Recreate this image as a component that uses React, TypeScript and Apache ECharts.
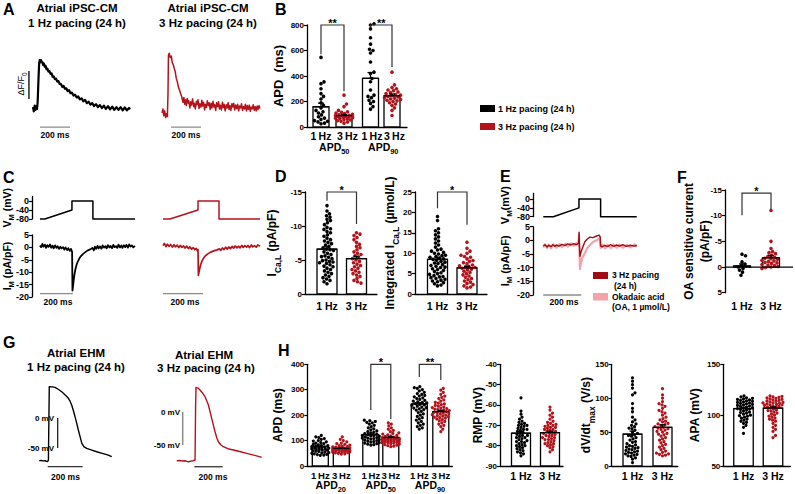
import React, { useEffect, useRef } from "react";
import * as echarts from "echarts";

const FONT = "'Liberation Sans', Arial, Helvetica, sans-serif";
const BLACK = "#000000";
const RED = "#b3131b";
const DARKRED = "#9e0d13";
const PINK = "#f3a3a9";
const GRAY = "#8c8c8c";

// ===== A: Ca2+ transients [time ms, dF/F0 a.u.] =====
const aTrace1Hz: number[][] = [[0,0.02],[5,-0.07],[11,0.05],[16,-0.04],[22,0.04],[27,-0.02],[31,0.12],[36,0.55],[41,0.94],[45,1.0],[49,0.95],[53,1.0],[58,0.96],[63,0.95],[67,0.9],[72,0.93],[78,0.86],[84,0.88],[90,0.81],[96,0.82],[103,0.76],[110,0.77],[117,0.71],[124,0.72],[131,0.65],[138,0.66],[146,0.6],[154,0.61],[162,0.55],[170,0.56],[178,0.5],[186,0.5],[195,0.44],[204,0.46],[213,0.4],[222,0.41],[231,0.35],[240,0.37],[250,0.31],[260,0.32],[270,0.26],[280,0.28],[291,0.22],[302,0.24],[313,0.18],[324,0.2],[335,0.14],[347,0.17],[359,0.1],[371,0.13],[383,0.07],[395,0.1],[407,0.04],[420,0.08],[433,0.02],[446,0.06],[459,0.0],[472,0.05],[486,-0.02],[500,0.04],[514,-0.03],[528,0.03],[542,-0.04],[556,0.02],[570,-0.04],[584,0.02],[598,-0.05],[612,0.01],[626,-0.05],[640,0.0],[647,-0.03]];
const aTrace3Hz: number[][] = [[0,-0.1],[6,-0.02],[12,-0.16],[18,-0.06],[24,-0.2],[30,-0.12],[36,-0.18],[40,0.3],[43,1.1],[48,1.14],[55,1.05],[62,1.08],[68,0.95],[75,0.9],[82,0.82],[88,0.76],[95,0.62],[102,0.55],[109,0.44],[116,0.38],[124,0.3],[131,0.24],[140,0.12],[146,0.22],[151,0.08],[158,0.17],[162,0.05],[169,0.2],[175,0.1],[179,0.15],[186,0.0],[192,0.13],[197,0.06],[204,0.19],[211,0.03],[215,0.1],[222,-0.02],[229,0.14],[233,0.07],[240,0.17],[247,-0.01],[252,0.09],[259,0.02],[266,0.16],[270,0.04],[277,0.12],[284,-0.04],[289,0.08],[296,0.01],[302,0.15],[309,0.05],[314,0.11],[321,-0.03],[327,0.1],[333,0.0],[340,0.14],[346,0.02],[351,0.07],[358,-0.05],[364,0.11],[371,0.03],[377,0.13],[383,-0.02],[389,0.06],[396,-0.04],[403,0.12],[409,0.01],[414,0.08],[421,-0.06],[428,0.07],[434,0.0],[441,0.11],[447,-0.03],[452,0.05],[459,-0.05],[466,0.09],[472,0.02],[478,0.1],[485,-0.04],[491,0.06],[498,-0.01],[504,0.08],[511,-0.06],[517,0.04],[524,0.0],[530,0.09],[537,-0.05],[543,0.03],[550,-0.02],[556,0.08],[563,-0.06],[569,0.05],[576,-0.03],[582,0.06],[589,-0.07],[595,0.02],[602,-0.02],[608,0.07],[615,-0.05],[621,0.03],[628,-0.06],[634,0.04],[641,-0.03],[647,0.05],[653,-0.01]];

// ===== B: APD of iPSC-CM (ms) =====
const bXLabels = ["1\u2009Hz", "3\u2009Hz", "1\u2009Hz", "3\u2009Hz"];
const bGroupSubs = ["50", "90"];
const bApd50Hz1 = [546,354,340,300,262,240,220,190,170,150,130,120,110,95,80,70,60,50,45,40,30,25];
const bApd50Hz3 = [250,180,160,130,120,115,110,105,100,95,92,90,88,85,82,80,78,75,72,70,68,65,60,55,50,45,40,30];
const bApd90Hz1 = [810,800,770,700,650,610,600,580,510,430,420,380,355,290,250,240,230,210,200,185,160,140];
const bApd90Hz3 = [430,330,310,300,290,285,275,270,262,255,250,245,240,235,230,225,220,215,210,205,200,190,180,170,150,130,90];
const bMeans = [159, 90, 382, 245];
const bSems = [28, 8, 45, 14];

// ===== C: voltage protocol (mV) and I_M (pA/pF) [time ms, value] =====
const vTicks = [0, -40, -80];
const cProtocol1Hz: number[][] = [[0,-80],[30,-80],[194,-40],[194,0],[321,0],[321,-80],[576,-80]];
const cCurrent1Hz: number[][] = [[0,0.8],[7,0.1],[15,1.4],[21,0.3],[30,1.1],[37,-0.2],[45,0.9],[52,0.2],[61,1.2],[68,-0.1],[77,0.7],[83,-0.4],[92,0.8],[100,-0.2],[107,0.5],[116,-0.6],[124,0.3],[131,-0.4],[140,0.1],[148,-0.9],[155,0.0],[165,-1.1],[172,-0.3],[181,-1.4],[188,-0.6],[195,-1.8],[197,-17.4],[200,-16.0],[204,-13.5],[209,-11.0],[215,-8.8],[222,-7.0],[230,-5.6],[240,-4.3],[250,-3.4],[262,-2.6],[275,-1.9],[290,-1.2],[305,-0.8],[318,-0.2],[326,-1.2],[333,0.3],[340,-0.6],[349,0.6],[355,-0.4],[364,0.4],[373,-0.5],[380,0.8],[388,-0.1],[397,0.5],[404,-0.4],[412,0.9],[421,0.0],[428,0.6],[437,-0.3],[445,1.0],[452,0.1],[461,0.5],[469,-0.2],[476,1.1],[485,0.0],[493,0.8],[500,-0.2],[509,0.9],[517,0.1],[524,1.0],[533,-0.1],[541,1.2],[549,0.3],[557,0.8],[566,0.0],[576,0.6]];
const cProtocol3Hz: number[][] = [[0,-80],[35,-80],[175,-40],[175,0],[280,0],[280,-80],[485,-80]];
const cCurrent3Hz: number[][] = [[0,0.8],[7,1.6],[15,0.3],[22,1.3],[31,0.4],[38,1.2],[47,0.1],[55,1.1],[62,0.2],[71,0.9],[79,-0.1],[86,0.8],[95,0.0],[103,0.6],[110,-0.3],[119,0.5],[127,-0.5],[134,0.2],[143,-0.7],[151,-0.1],[159,-0.9],[166,-0.4],[172,-1.4],[175,-0.9],[177,-11.3],[180,-10.0],[184,-8.4],[189,-6.8],[195,-5.5],[203,-4.3],[212,-3.4],[224,-2.6],[238,-1.9],[254,-1.4],[270,-1.0],[282,-0.6],[289,-1.2],[297,-0.2],[305,-0.9],[313,0.1],[321,-0.7],[329,0.2],[337,-0.5],[346,0.4],[353,-0.3],[361,0.6],[370,-0.2],[377,0.5],[385,-0.2],[394,0.8],[401,0.0],[409,0.7],[418,0.1],[425,0.8],[433,-0.1],[442,1.0],[449,0.2],[457,0.7],[466,0.1],[474,1.0],[485,0.4]];

// ===== D: I_Ca,L =====
const dXLabels = ["1 Hz", "3 Hz"];
const dIcalHz1 = [-13,-12.2,-11.8,-11.5,-11.3,-11,-10.8,-10.5,-10.2,-9.8,-9.6,-9.5,-9.2,-9,-8.7,-8.5,-8.2,-8,-7.8,-7.6,-7.4,-7.2,-7,-6.8,-6.6,-6.4,-6.2,-6,-5.8,-5.6,-5.4,-5.2,-5,-4.9,-4.8,-4.6,-4.5,-4.3,-4.1,-4,-3.8,-3.6,-3.4,-3.2,-3,-2.8,-2.6,-2.4,-2.2,-2,-1.8,-1.5,-6.5,-5.5,-4.7];
const dIcalHz3 = [-9,-8.8,-8.6,-8.3,-8,-7.6,-7.3,-7,-6.8,-6.5,-6.2,-6,-5.8,-5.6,-5.4,-5.2,-5,-4.8,-4.6,-4.4,-4.2,-4,-3.8,-3.6,-3.4,-3.2,-3,-2.8,-2.6,-2.3,-2,-1.8,-1.6];
const dIcalMeans = [-6.6, -5.2];
const dIcalSems = [0.35, 0.35];
const dIntHz1 = [19,18,16,15.5,15,14.5,14,13.5,13,12.5,12,11.5,11,10.8,10.5,10.2,10,9.8,9.5,9.2,9,8.8,8.5,8.3,8,7.8,7.5,7.2,7,6.8,6.5,6.2,6,5.8,5.5,5.2,5,4.8,4.5,4.3,4,3.8,3.6,3.4,3.2,3,2.8,2.5,2.2,2,8.6,9.4,7.6,6.6,4.2];
const dIntHz3 = [12.7,11.2,10.5,10,9.5,9.2,9,8.6,8.2,8,7.7,7.4,7.1,6.9,6.7,6.5,6.3,6.1,5.9,5.6,5.3,5,4.7,4.4,4.1,3.8,3.5,3.2,2.9,2.6,2.3,2,1.7,1.5,6.6];
const dIntMeans = [8.5, 6.4];
const dIntSems = [0.45, 0.4];

// ===== E: okadaic acid =====
const eProtocol: number[][] = [[0,-80],[53,-80],[188,-40],[188,0],[302,0],[302,-80],[492,-80]];
const eCurrent3Hz: number[][] = [[0,-2.0],[9,-1.6],[20,-2.4],[28,-1.8],[41,-2.3],[50,-1.6],[61,-2.2],[69,-1.7],[84,-2.1],[99,-1.5],[114,-1.9],[129,-1.3],[146,-1.7],[159,-1.2],[174,-1.6],[186,-1.0],[189,3.0],[190,-1.0],[193,-5.8],[200,-4.0],[210,-2.2],[219,-0.5],[232,0.5],[246,1.2],[262,1.0],[281,1.6],[295,1.9],[300,1.2],[302,-2.0],[310,-2.4],[324,-1.8],[339,-2.3],[354,-1.6],[371,-2.2],[386,-1.7],[401,-2.1],[419,-1.6],[438,-2.2],[459,-1.8],[479,-2.1],[492,-1.8]];
const eCurrentOA: number[][] = [[0,-2.6],[9,-1.4],[21,-2.8],[29,-1.5],[41,-2.9],[54,-1.4],[69,-2.7],[86,-1.3],[99,-2.5],[116,-1.2],[129,-2.3],[146,-1.1],[159,-2.0],[175,-1.0],[185,-1.6],[188,2.5],[190,-3],[193,-10.5],[198,-8.5],[205,-6.5],[219,-4.6],[232,-2.8],[246,-1.7],[262,-0.6],[281,0],[298,0.8],[302,-2.8],[312,-1.5],[326,-2.9],[339,-1.6],[356,-2.8],[369,-1.5],[386,-2.7],[401,-1.5],[419,-2.7],[441,-1.6],[459,-2.6],[481,-1.5],[492,-2.4]];

// ===== F: OA sensitive current =====
const fOaHz1 = [-2.5,-2.2,-1,-0.6,-0.3,0,0.3,0.6,1,1.6];
const fOaHz3 = [-11,-5,-3.6,-3,-2.6,-2.3,-2.1,-1.9,-1.7,-1.5,-1.3,-1.1,-0.9,-0.7,-0.5,-0.3,-0.1,0,0.1,0.3,-1.2,-0.8,-2.8,-1.6,-0.4];
const fMeans = [-0.2, -1.8];
const fSems = [0.4, 0.45];

// ===== G: EHM action potentials [time ms, mV] =====
const gAp1Hz: number[][] = [[0,-71.2],[10,-70.6],[20,-71.5],[33,-71.0],[40,-72.2],[48,-72.5],[52,-70],[57,52.2],[61,52.2],[75,51.8],[90,51.0],[110,47.5],[128,43.8],[148,38.5],[166,32.8],[176,28],[185,21.7],[195,12],[204,2.2],[214,-9],[223,-20],[233,-31],[243,-42.2],[256,-48],[271,-50.5],[300,-53.5],[328,-56.2],[360,-59],[390,-61.5],[414,-64.5]];
const gAp3Hz: number[][] = [[0,-73.5],[20,-73.2],[40,-73.8],[58,-73.5],[70,-74.5],[82,-75],[100,-74],[117,-73.5],[129,-72.4],[133,10],[136,36.6],[150,35.5],[164,32.5],[182,28],[199,22.5],[212,16],[223,10],[235,0],[246,-10],[258,-20],[270,-30],[282,-39],[293,-45],[310,-49.5],[328,-52.5],[360,-55.5],[399,-57.4],[450,-60],[493,-62.4],[550,-65.5],[599,-68.4]];

// ===== H: EHM AP parameters =====
const hXLabels = ["1\u2009Hz", "3\u2009Hz", "1\u2009Hz", "3\u2009Hz", "1\u2009Hz", "3\u2009Hz"];
const hGroupSubs = ["20", "50", "90"];
const hApd20Hz1 = [120,115,112,108,105,100,98,95,92,90,88,85,83,80,78,76,75,73,72,70,68,66,65,63,62,60,58,57,55,53,52,50,48,46,45,43,42,80,70,65];
const hApd20Hz3 = [115,105,100,95,90,88,85,82,80,78,76,75,74,72,71,70,69,68,67,66,65,64,63,62,61,60,60,59,58,57,56,55,54,53,52,50,48,47,70,66,63,58];
const hApd50Hz1 = [180,178,175,172,170,165,160,155,150,146,142,138,135,132,130,127,125,123,120,118,116,114,112,110,108,106,104,102,100,98,96,94,92,90,88,86,84,82,120,110];
const hApd50Hz3 = [170,165,158,150,145,140,135,130,128,125,122,120,118,116,114,112,110,109,108,107,106,105,104,103,102,101,100,99,98,97,96,95,94,93,92,91,90,88,86,84,82,80,78,76,105];
const hApd90Hz1 = [312,308,305,300,295,290,285,282,278,275,272,268,265,262,258,255,252,250,248,245,242,240,238,235,232,230,228,225,222,220,215,210,205,200,195,190,185,180,175,170,165,160,155,150,145];
const hApd90Hz3 = [305,298,290,282,275,270,265,260,255,250,247,244,241,238,235,232,230,228,226,224,222,220,218,216,214,212,210,208,206,204,202,200,198,196,194,192,190,188,185,182,178,175,170,165,160,155,145,135];
const hApdMeans = [76, 69, 123, 112, 244, 214];
const hApdSems = [2.5, 2.2, 3.5, 3, 5, 4.5];
const hRmpHz1 = [-56.5,-63,-64.5,-66,-67,-68,-68.5,-69,-69.5,-70,-70.5,-71,-71.5,-72,-72.5,-73,-73.5,-74,-74.5,-75,-75.5,-76,-76.5,-77,-77.5,-78,-78.5,-79,-79.5,-80,-80.5,-81,-81.5,-82,-82.5,-83,-83.5,-84,-85,-70,-72,-75,-78,-80,-76];
const hRmpHz3 = [-61,-62.5,-64,-65,-66,-67,-68,-68.5,-69,-69.5,-70,-70.5,-71,-71.5,-72,-72.5,-73,-73.5,-74,-74.5,-75,-75.5,-76,-76.5,-77,-77.5,-78,-78.5,-79,-79.5,-80,-80.5,-81,-82,-83,-71,-73,-75,-77,-79,-70,-72,-74,-76];
const hRmpMeans = [-73.9, -73.6];
const hRmpSems = [0.9, 0.7];
const hDvdtHz1 = [130,125,120,115,108,105,92,85,80,72,68,65,62,60,58,56,55,53,50,48,46,44,42,40,38,36,35,33,31,30,29,28,27,26,25,24,23,22,21,20,19,18,17,16,15,14,12,10,5,45];
const hDvdtHz3 = [114,105,100,95,92,90,88,85,82,80,78,75,72,70,68,66,65,63,61,60,58,56,55,53,51,50,48,46,44,42,40,38,36,34,32,30,28,26,24,22,20,19,18,17,16,15,62,57,54,47];
const hDvdtMeans = [47, 57];
const hDvdtSems = [4.5, 3.8];
const hApaHz1 = [119,118,117,116.5,116,115.5,115,114.5,114,113.5,113,112.5,112,111,110.5,110,109.5,109,108,107.5,107,106,105.5,105,104,103,102.5,102,101,100,99.5,99,98,97,96,95,94,93,92,90,88,82,111.5,108.5,106.5];
const hApaHz3 = [119,118.5,118,117.5,117,116.5,116,115.5,115,114.5,114,113.5,113,112.5,112,111.5,111,110.5,110,109.5,109,108.5,108,107,106,105,104.5,104,103,102,101,100,99,98,97,96,95,94,92,90,88,86,84,80,78,112,110,108];
const hApaMeans = [106.5, 107];
const hApaSems = [1.2, 1.1];

// ---------------------------------------------------------------------
function swarm(values: number[], center: number, pxPerY: number, halfW: number, d: number): number[] {
  const idx = values.map((_, i) => i).sort((a, b) => values[a] - values[b]);
  const placed: { x: number; y: number }[] = [];
  const xs = new Array(values.length).fill(center);
  const cands: number[] = [0];
  for (let k = 1; k * 0.5 <= halfW; k++) cands.push(k * 0.5, -k * 0.5);
  for (const i of idx) {
    const y = values[i] * pxPerY;
    let best = 0, bestScore = Infinity;
    for (const o of cands) {
      let score = 0;
      for (const p of placed) {
        const dx = p.x - o, dy = p.y - y;
        const q = dx * dx + dy * dy;
        if (q < d * d) score += d * d - q;
      }
      if (score === 0) { best = o; bestScore = 0; break; }
      if (score < bestScore) { bestScore = score; best = o; }
    }
    placed.push({ x: best, y });
    xs[i] = center + best;
  }
  return xs;
}

const richOf = (size: number, pad = 0.3) => ({
  n: { fontFamily: FONT, fontWeight: "bold", fontSize: size, color: BLACK, fill: BLACK, verticalAlign: "bottom", padding: [0, 0, Math.round(size * pad), 0] },
  s: { fontFamily: FONT, fontWeight: "bold", fontSize: Math.round(size * 0.7 * 10) / 10, color: BLACK, fill: BLACK, verticalAlign: "bottom" },
});

function buildOption() {
  const grid: any[] = [], xAxis: any[] = [], yAxis: any[] = [], series: any[] = [], elements: any[] = [];
  const axisLineStyle = { color: BLACK, width: 1.3 };

  const addGrid = (p: any, x: any, y: any) => {
    const i = grid.length;
    grid.push({ left: p.left, top: p.top, width: p.width, height: p.height, containLabel: false, outerBoundsMode: "none" });
    xAxis.push({ gridIndex: i, type: "value", ...x });
    yAxis.push({ gridIndex: i, type: "value", ...y });
    return i;
  };
  const hidden = (min: number, max: number) => ({ min, max, show: false, splitLine: { show: false } });
  const line = (gi: number, data: number[][], color: string, width: number, z = 2) =>
    series.push({ type: "line", xAxisIndex: gi, yAxisIndex: gi, data, symbol: "none", showSymbol: false, clip: false, silent: true, z, animation: false, lineStyle: { color, width, join: "round" } });
  const nameStyle = (size: number) => ({ fontFamily: FONT, fontWeight: "bold", fontSize: size, color: BLACK, rich: richOf(size) });
  const shownY = (o: any) => ({
    axisLine: { show: true, onZero: false, lineStyle: axisLineStyle },
    axisTick: { show: true, inside: false, length: 3, lineStyle: { color: BLACK, width: 1.2 }, ...(o.ticks ? { customValues: o.ticks } : {}) },
    axisLabel: { color: BLACK, fontFamily: FONT, fontWeight: "bold", fontSize: o.labelSize || 8, margin: 3, ...(o.ticks ? { customValues: o.ticks } : {}) },
    splitLine: { show: false },
    name: o.name, nameLocation: "middle", nameRotate: 90, nameGap: o.nameGap, nameMoveOverlap: false,
    nameTextStyle: nameStyle(o.nameSize || 12),
    min: o.min, max: o.max, interval: o.interval, inverse: !!o.inverse,
  });

  const T = (text: string, x: number, y: number, size: number, align = "center", extra: any = {}) => ({
    type: "text", x, y, silent: true, z: 100,
    style: { text, fill: BLACK, fontFamily: FONT, fontWeight: "bold", fontSize: size, align, verticalAlign: "middle", textAlign: align, textVerticalAlign: "middle", ...extra },
  });

  // ---------- bar panel ----------
  const barPanel = (p: any) => {
    const lp: number[] = p.labelPositions || p.positions;
    const gi = addGrid(p,
      {
        min: 0, max: p.width,
        axisLine: { show: !p.zeroLine, onZero: false, lineStyle: axisLineStyle },
        axisTick: { show: false }, splitLine: { show: false },
        axisLabel: {
          customValues: lp, color: BLACK, fontFamily: FONT, fontWeight: "bold", fontSize: p.xLabelSize || 10.5, margin: p.labelMargin,
          formatter: (v: number) => { const k = lp.findIndex((q: number) => Math.abs(q - v) < 0.01); return k >= 0 ? p.xLabels[k] : ""; },
        },
      },
      shownY({ min: p.yMin, max: p.yMax, interval: p.interval, inverse: p.inverse, name: p.name, nameGap: p.nameGap, nameSize: p.nameSize })
    );
    const bw = p.barWidth, base = p.base;
    const pxPerY = p.height / (p.yMax - p.yMin);
    series.push({
      type: "custom", xAxisIndex: gi, yAxisIndex: gi, clip: false, silent: true, z: 2,
      data: p.positions.map((x: number, k: number) => [x, p.means[k]]),
      renderItem: (_: any, api: any) => {
        const x = api.value(0), m = api.value(1);
        const a = api.coord([x - bw / 2, base]), b = api.coord([x + bw / 2, m]);
        return { type: "rect", shape: { x: Math.min(a[0], b[0]), y: Math.min(a[1], b[1]), width: Math.abs(b[0] - a[0]), height: Math.abs(b[1] - a[1]) }, style: { fill: "#ffffff", stroke: BLACK, lineWidth: 1.3 } };
      },
    });
    p.groups.forEach((vals: number[], k: number) => {
      const xs = swarm(vals, p.positions[k], pxPerY, bw / 2 + 0.5, p.dot * 0.95);
      series.push({
        type: "scatter", xAxisIndex: gi, yAxisIndex: gi, clip: false, silent: true, z: 3,
        symbol: "circle", symbolSize: p.dot, itemStyle: { color: p.colors[k], opacity: 1 },
        data: vals.map((v, j) => [xs[j], v]),
      });
    });
    series.push({
      type: "custom", xAxisIndex: gi, yAxisIndex: gi, clip: false, silent: true, z: 4,
      data: p.positions.map((x: number, k: number) => [x, p.means[k], p.sems[k]]),
      renderItem: (_: any, api: any) => {
        const x = api.value(0), m = api.value(1), s = api.value(2);
        const e = m + (m >= base ? 1 : -1) * s;
        const pm = api.coord([x, m]), pe = api.coord([x, e]);
        const st = { stroke: BLACK, lineWidth: 1.3 };
        return { type: "group", children: [
          { type: "line", shape: { x1: pm[0] - bw / 2, y1: pm[1], x2: pm[0] + bw / 2, y2: pm[1] }, style: st },
          { type: "line", shape: { x1: pm[0], y1: pm[1], x2: pe[0], y2: pe[1] }, style: st },
          { type: "line", shape: { x1: pe[0] - 3, y1: pe[1], x2: pe[0] + 3, y2: pe[1] }, style: st },
        ] };
      },
    });
    if (p.brackets && p.brackets.length) {
      series.push({
        type: "custom", xAxisIndex: gi, yAxisIndex: gi, clip: false, silent: true, z: 5,
        data: p.brackets,
        renderItem: (params: any, api: any) => {
          const x1 = api.value(0), x2 = api.value(1), top = api.value(2), l = api.value(3), r = api.value(4);
          const a = api.coord([x1, l]), b = api.coord([x1, top]), c = api.coord([x2, top]), d = api.coord([x2, r]);
          const txt = p.bracketText[params.dataIndex];
          return { type: "group", children: [
            { type: "polyline", shape: { points: [a, b, c, d] }, style: { stroke: "#333333", lineWidth: 1.2, fill: null } },
            { type: "text", style: { text: txt, x: (b[0] + c[0]) / 2, y: b[1] + 3, fill: BLACK, fontFamily: FONT, fontWeight: "bold", fontSize: 11, align: "center", verticalAlign: "bottom", textAlign: "center", textVerticalAlign: "bottom" } },
          ] };
        },
      });
    }
    if (p.zeroLine) line(gi, [[0, 0], [p.width, 0]], BLACK, 1.3, 5);
    if (p.groupSubs) {
      p.groupSubs.forEach((sub: string, g: number) => {
        const cx = p.left + (lp[2 * g] + lp[2 * g + 1]) / 2;
        elements.push(T(`{n|APD}{s|${sub}}`, cx, p.groupY, 10.5, "center", { rich: richOf(10.5, 0.22) }));
      });
    }
    return gi;
  };

  // ---------- A ----------
  const gA1 = addGrid({ left: 24, top: 50.4, width: 108, height: 79.2 }, hidden(-60, 660), hidden(-0.45, 1.2));
  line(gA1, aTrace1Hz, BLACK, 2.2);
  line(gA1, [[47, -0.4], [247, -0.4]], GRAY, 1.3);
  line(gA1, [[-27, 0.19], [-27, 0.77]], BLACK, 1.3);
  const gA2 = addGrid({ left: 153, top: 50.4, width: 108, height: 79.2 }, hidden(-60, 660), hidden(-0.45, 1.2));
  line(gA2, aTrace3Hz, RED, 1.5);
  line(gA2, [[60, -0.4], [260, -0.4]], GRAY, 1.3);

  // ---------- B ----------
  barPanel({
    left: 307, top: 25, width: 100, height: 102, yMin: 0, yMax: 800, interval: 200, base: 0,
    positions: [14, 37, 63.5, 85], labelPositions: [14, 40.5, 65, 87.5], barWidth: 16, dot: 3.6,
    groups: [bApd50Hz1, bApd50Hz3, bApd90Hz1, bApd90Hz3], colors: [BLACK, RED, BLACK, RED],
    means: bMeans, sems: bSems, xLabels: bXLabels, xLabelSize: 10.5, labelMargin: 3,
    name: "{n|APD  (ms)}", nameSize: 13, nameGap: 18,
    brackets: [[14, 37, 800, 570, 280], [63.5, 85, 800, 790, 470]], bracketText: ["**", "**"],
    groupSubs: bGroupSubs, groupY: 148,
  });

  // ---------- C ----------
  const gC1V = addGrid({ left: 32, top: 196.5, width: 103, height: 22.5 }, hidden(-48, 576),
    shownY({ min: -80, max: 20, ticks: vTicks, labelSize: 9, name: "{n|V}{s|M}{n| (mV)}", nameGap: 17, nameSize: 10.5 }));
  line(gC1V, cProtocol1Hz, BLACK, 1.5);
  const gC1I = addGrid({ left: 32, top: 235, width: 103, height: 62 }, hidden(-48, 576),
    shownY({ min: -20, max: 5, interval: 5, labelSize: 9, name: "{n|I}{s|M}{n| (pA/pF)}", nameGap: 17, nameSize: 10.5 }));
  line(gC1I, cCurrent1Hz, BLACK, 1.8);
  line(gC1I, [[0, -18.6], [200, -18.6]], GRAY, 1.3);
  const gC2V = addGrid({ left: 163, top: 196.5, width: 97, height: 22.5 }, hidden(0, 485), hidden(-80, 20));
  line(gC2V, cProtocol3Hz, RED, 1.5);
  const gC2I = addGrid({ left: 163, top: 235, width: 97, height: 62 }, hidden(0, 485), hidden(-20, 5));
  line(gC2I, cCurrent3Hz, RED, 1.7);
  line(gC2I, [[0, -18.6], [200, -18.6]], GRAY, 1.3);

  // ---------- D ----------
  barPanel({
    left: 305, top: 192, width: 72, height: 102, yMin: -15, yMax: 0, interval: 5, inverse: true, base: 0,
    positions: [22, 51.5], barWidth: 20, dot: 3.6,
    groups: [dIcalHz1, dIcalHz3], colors: [BLACK, RED], means: dIcalMeans, sems: dIcalSems,
    xLabels: dXLabels, labelMargin: 6,
    name: "{n|I}{s|Ca,L}{n| (pA/pF)}", nameSize: 12, nameGap: 23,
    brackets: [[22, 51.5, -15, -13.7, -10.3]], bracketText: ["*"],
  });
  barPanel({
    left: 415, top: 192, width: 72, height: 102, yMin: 0, yMax: 25, interval: 5, base: 0,
    positions: [22.5, 52], barWidth: 20, dot: 3.6,
    groups: [dIntHz1, dIntHz3], colors: [BLACK, RED], means: dIntMeans, sems: dIntSems,
    xLabels: dXLabels, labelMargin: 6,
    name: "{n|Integrated I}{s|Ca,L}{n| (µmol/L)}", nameSize: 12, nameGap: 15,
    brackets: [[22.5, 52, 25, 21, 17]], bracketText: ["*"],
  });

  // ---------- E ----------
  const gEV = addGrid({ left: 533, top: 193.5, width: 103.7, height: 23.2 }, hidden(-54, 492),
    shownY({ min: -80, max: 25, ticks: vTicks, labelSize: 9, name: "{n|V}{s|M}{n|(mV)}", nameGap: 20, nameSize: 11 }));
  line(gEV, eProtocol, BLACK, 1.5);
  const gEI = addGrid({ left: 533, top: 226.7, width: 103.7, height: 68.3 }, hidden(-54, 492),
    shownY({ min: -20, max: 5, interval: 5, labelSize: 9, name: "{n|I}{s|M}{n| (pA/pF)}", nameGap: 20, nameSize: 11 }));
  line(gEI, eCurrentOA, PINK, 2.2, 2);
  line(gEI, eCurrent3Hz, DARKRED, 1.4, 3);
  line(gEI, [[0, -20], [200, -20]], GRAY, 1.3);

  // ---------- F ----------
  barPanel({
    left: 725, top: 190, width: 68, height: 102.7, yMin: -15, yMax: 5, interval: 5, inverse: true, base: 0,
    positions: [17, 46], barWidth: 17, dot: 3.6, zeroLine: true,
    groups: [fOaHz1, fOaHz3], colors: [BLACK, RED], means: fMeans, sems: fSems,
    xLabels: dXLabels, labelMargin: 8,
    name: "{n|OA sensitive current}\n{n|(pA/pF)}", nameSize: 12, nameGap: 10,
    brackets: [[17, 46, -14.4, -10.1, -11.2]], bracketText: ["*"],
  });

  // ---------- G ----------
  const gG1 = addGrid({ left: 25.3, top: 382, width: 87.5, height: 87 }, hidden(-80, 420), hidden(-85, 60));
  line(gG1, gAp1Hz, BLACK, 1.4);
  line(gG1, [[48, -81.2], [248, -81.2]], "#333333", 1.3);
  line(gG1, [[105, 0], [105, -50]], "#222222", 1.3);
  const gG2 = addGrid({ left: 173.9, top: 371.7, width: 88, height: 96.7 }, hidden(-20, 600), hidden(-85, 60));
  line(gG2, gAp3Hz, RED, 1.4);
  line(gG2, [[124, -82.5], [324, -82.5]], "#333333", 1.3);
  line(gG2, [[42, 0], [42, -50]], GRAY, 1.5);

  // ---------- H ----------
  barPanel({
    left: 307.3, top: 364.3, width: 145, height: 101.7, yMin: 0, yMax: 400, interval: 100, base: 0,
    positions: [13, 34, 63.5, 83.5, 112, 133.5], barWidth: 16, dot: 3.2,
    groups: [hApd20Hz1, hApd20Hz3, hApd50Hz1, hApd50Hz3, hApd90Hz1, hApd90Hz3], colors: [BLACK, RED, BLACK, RED, BLACK, RED],
    means: hApdMeans, sems: hApdSems, xLabels: hXLabels, xLabelSize: 9.5, labelMargin: 4,
    name: "{n|APD (ms)}", nameSize: 12, nameGap: 19,
    brackets: [[63.5, 83.5, 400, 220, 185], [112, 133.5, 400, 350, 338]], bracketText: ["*", "**"],
    groupSubs: hGroupSubs, groupY: 486,
  });
  barPanel({
    left: 500, top: 364.3, width: 63, height: 101.7, yMin: -90, yMax: -40, interval: 10, base: -90,
    positions: [21, 50], barWidth: 19, dot: 3.2,
    groups: [hRmpHz1, hRmpHz3], colors: [BLACK, RED], means: hRmpMeans, sems: hRmpSems,
    xLabels: dXLabels, labelMargin: 4.5, name: "{n|RMP (mV)}", nameSize: 12, nameGap: 12,
  });
  barPanel({
    left: 611.7, top: 364.3, width: 66, height: 101.7, yMin: 0, yMax: 150, interval: 50, base: 0,
    positions: [20.8, 50.8], barWidth: 19, dot: 3.2,
    groups: [hDvdtHz1, hDvdtHz3], colors: [BLACK, RED], means: hDvdtMeans, sems: hDvdtSems,
    xLabels: dXLabels, labelMargin: 4.5, name: "{n|dV/dt}{s|max}{n| (V/s)}", nameSize: 12, nameGap: 16,
  });
  barPanel({
    left: 723.3, top: 364.3, width: 67, height: 101.7, yMin: 50, yMax: 150, interval: 50, base: 50,
    positions: [20.2, 49.7], barWidth: 19.5, dot: 3.2,
    groups: [hApaHz1, hApaHz3], colors: [BLACK, RED], means: hApaMeans, sems: hApaSems,
    xLabels: dXLabels, labelMargin: 4.5, name: "{n|APA (mV)}", nameSize: 12, nameGap: 18,
  });

  // ---------- texts ----------
  const letters: [string, number, number][] = [["A", 3, 9], ["B", 275, 9], ["C", 3, 177], ["D", 275, 176], ["E", 500, 176], ["F", 677, 177], ["G", 3, 342], ["H", 278, 350]];
  letters.forEach(([t, x, y]) => elements.push(T(t, x, y, 16, "left")));
  elements.push(T("Atrial iPSC-CM", 77, 8, 11.5), T("1 Hz pacing (24 h)", 77, 23, 11.5));
  elements.push(T("Atrial iPSC-CM", 208, 8, 11.5), T("3 Hz pacing (24 h)", 208, 23, 11.5));
  elements.push(T("Atrial EHM", 76, 353, 11.5), T("1 Hz pacing (24 h)", 76, 367, 11.5));
  elements.push(T("Atrial EHM", 204, 355, 11.5), T("3 Hz pacing (24 h)", 206, 368, 11.5));
  [[55, 135], [186, 135], [58, 302], [185, 302], [564, 302], [65.5, 477], [213, 477]].forEach(([x, y]) => elements.push(T("200 ms", x, y, 8.5)));
  const dfRich = { n: { fontFamily: FONT, fontSize: 9, fill: BLACK, color: BLACK, verticalAlign: "bottom", padding: [0, 0, 2, 0] }, s: { fontFamily: FONT, fontSize: 6.5, fill: BLACK, color: BLACK, verticalAlign: "bottom" } };
  elements.push({ ...T("{n|ΔF/F}{s|0}", 22, 84, 9, "center", { rich: dfRich, fontWeight: "normal" }), rotation: Math.PI / 2 });
  elements.push(T("0 mV", 54, 418, 8, "right"), T("-50 mV", 54, 448, 8, "right"));
  elements.push(T("0 mV", 180, 412, 8, "right"), T("-50 mV", 180, 445, 8, "right"));
  // legend B
  elements.push({ type: "rect", shape: { x: 480, y: 105, width: 15, height: 7 }, style: { fill: BLACK }, silent: true });
  elements.push({ type: "rect", shape: { x: 480, y: 123, width: 15, height: 7 }, style: { fill: RED }, silent: true });
  elements.push(T("1 Hz pacing (24 h)", 498, 108.5, 9, "left"), T("3 Hz pacing (24 h)", 498, 126.5, 9, "left"));
  // legend E
  elements.push({ type: "rect", shape: { x: 593, y: 272, width: 15, height: 7 }, style: { fill: DARKRED }, silent: true });
  elements.push({ type: "rect", shape: { x: 593, y: 293, width: 15, height: 7.5 }, style: { fill: PINK }, silent: true });
  elements.push(T("3 Hz pacing", 612, 275, 8.5, "left"), T("(24 h)", 614, 286, 8.5, "left"));
  elements.push(T("Okadaic acid", 612, 297, 8.5, "left"), T("(OA, 1 µmol/L)", 612, 307, 8.5, "left"));

  return {
    animation: false,
    backgroundColor: "#ffffff",
    textStyle: { fontFamily: FONT },
    grid, xAxis, yAxis, series,
    graphic: { elements },
  };
}

export default function App() {
  const ref = useRef<HTMLDivElement>(null);
  useEffect(() => {
    if (!ref.current) return;
    const chart = echarts.init(ref.current, undefined, { renderer: "svg" });
    chart.setOption(buildOption() as any);
    return () => chart.dispose();
  }, []);
  return <div ref={ref} style={{ position: "absolute", left: 0, top: 0, width: 795, height: 494, background: "#fff" }} />;
}
